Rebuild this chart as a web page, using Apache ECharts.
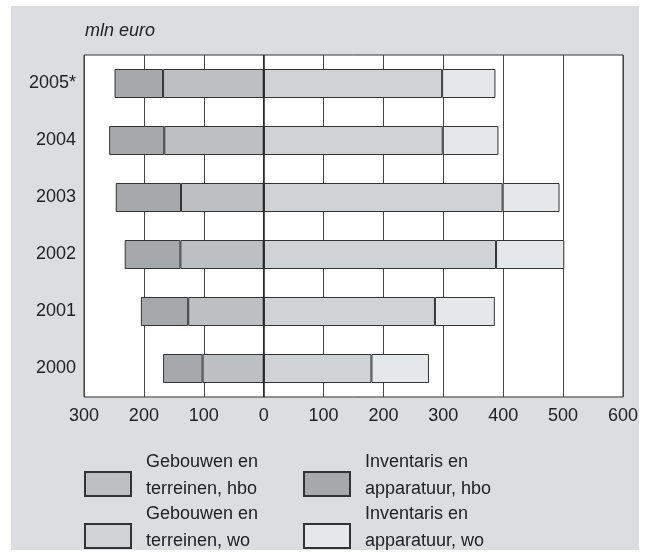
<!DOCTYPE html>
<html>
<head>
<meta charset="utf-8">
<script src="https://cdn.jsdelivr.net/npm/echarts@6/dist/echarts.min.js"></script>
<style>html,body{margin:0;padding:0;background:#fff}#c{width:649px;height:558px}</style>
</head>
<body>
<div id="c"></div>
<script>
const categories = ['2000', '2001', '2002', '2003', '2004', '2005*'];
const gebouwenHbo = [102, 126, 139, 138, 166, 168];
const inventarisHbo = [66, 79, 93, 109, 92, 81];
const gebouwenWo = [180, 286, 388, 399, 299, 298];
const inventarisWo = [96, 100, 114, 95, 93, 89];
const seriesNames = ['Gebouwen en terreinen, hbo', 'Inventaris en apparatuur, hbo', 'Gebouwen en terreinen, wo', 'Inventaris en apparatuur, wo'];
const legendLines = {
  'Gebouwen en terreinen, hbo': ['Gebouwen en', 'terreinen, hbo'],
  'Inventaris en apparatuur, hbo': ['Inventaris en', 'apparatuur, hbo'],
  'Gebouwen en terreinen, wo': ['Gebouwen en', 'terreinen, wo'],
  'Inventaris en apparatuur, wo': ['Inventaris en', 'apparatuur, wo']
};
const colors = ['#bebfc1', '#a7a8aa', '#d1d2d4', '#e6e7e8'];

const font = 'Liberation Sans, Arial, sans-serif';
const chart = echarts.init(document.getElementById('c'));

function mkBar(name, data, color, extra) {
  return Object.assign({
    name: name,
    type: 'bar',
    stack: 'all',
    barWidth: 29,
    data: data,
    itemStyle: { color: color, borderColor: '#333', borderWidth: 1 },
    emphasis: { disabled: true },
    animation: false
  }, extra || {});
}

function mkLegend(name, left, top) {
  return {
    data: [name],
    left: left,
    top: top,
    padding: 0,
    icon: 'rect',
    itemWidth: 46,
    itemHeight: 24,
    selectedMode: false,
    formatter: function (n) {
      const l = legendLines[n];
      return '{a|' + l[0] + '}\n{a|' + l[1] + '}\n{s| }';
    },
    textStyle: {
      fontFamily: font, fontSize: 18, color: '#222',
      padding: [0, 0, 0, 10],
      rich: {
        a: { fontFamily: font, fontSize: 18, color: '#222', lineHeight: 27 },
        s: { fontSize: 4, lineHeight: 17 }
      }
    }
  };
}

chart.setOption({
  backgroundColor: '#fff',
  animation: false,
  graphic: { elements: [{ type: 'rect', z: -10, shape: { x: 11, y: 6, width: 628, height: 544 }, style: { fill: '#dcdddf' } }] },
  title: { text: 'mln euro', left: 85, top: 22, padding: 0, textStyle: { fontFamily: font, fontSize: 18, fontStyle: 'italic', fontWeight: 'normal', color: '#222' } },
  grid: { left: 84, right: 26, top: 55, bottom: 161, show: true, backgroundColor: '#fff', borderColor: '#333', borderWidth: 1 },
  xAxis: {
    type: 'value', min: -300, max: 600, interval: 100,
    axisLine: { show: false }, axisTick: { show: false },
    splitLine: { show: true, lineStyle: { color: '#444', width: 1 } },
    axisLabel: { fontFamily: font, fontSize: 18, color: '#222', margin: 10, formatter: function (v) { return Math.abs(v); } }
  },
  yAxis: {
    type: 'category', data: categories,
    axisLine: { show: false, onZero: false }, axisTick: { show: false },
    axisLabel: { fontFamily: font, fontSize: 18, color: '#222', margin: 8 }
  },
  legend: [
    mkLegend(seriesNames[0], 84, 453),
    mkLegend(seriesNames[1], 303, 453),
    mkLegend(seriesNames[2], 84, 505),
    mkLegend(seriesNames[3], 303, 505)
  ],
  series: [
    mkBar(seriesNames[0], gebouwenHbo.map(v => -v), colors[0], {
      markLine: { silent: true, symbol: 'none', label: { show: false }, lineStyle: { color: '#222', width: 1.5, type: 'solid' }, data: [{ xAxis: 0 }] }
    }),
    mkBar(seriesNames[1], inventarisHbo.map(v => -v), colors[1]),
    mkBar(seriesNames[2], gebouwenWo, colors[2]),
    mkBar(seriesNames[3], inventarisWo, colors[3])
  ]
});
</script>
</body>
</html>
